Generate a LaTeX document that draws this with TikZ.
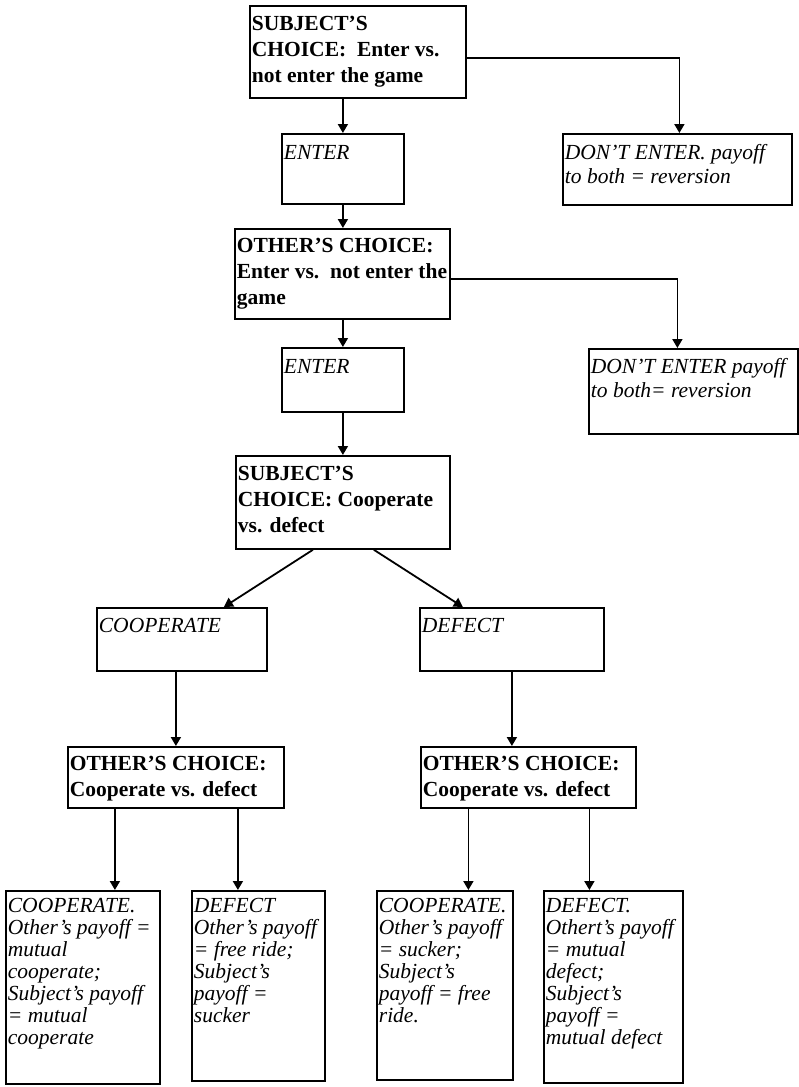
\documentclass[tikz,border=0pt]{standalone}
\usepackage{fontspec}
\setmainfont{Liberation Serif}
\usepackage{tikz}
\usetikzlibrary{arrows.meta}
\newcommand{\bxt}[4]{\parbox[t][#2][t]{#1}{\raggedright\rule{0pt}{#3}#4}}

\begin{document}
\begin{tikzpicture}[x=1pt,y=-1pt,
	choicebox/.style={draw,line width=1.8pt,anchor=north west,inner xsep=2pt,inner ysep=0pt,font={\fontsize{21.5}{26}\selectfont\bfseries}},
	movebox/.style={draw,line width=1.8pt,anchor=north west,inner xsep=2pt,inner ysep=0pt,font={\fontsize{21.5}{24}\selectfont\itshape}},
	payoffbox/.style={draw,line width=1.8pt,anchor=north west,inner xsep=2pt,inner ysep=0pt,font={\fontsize{21.5}{22}\selectfont\itshape}},
	arr/.style={line width=1.8pt,-{Triangle[length=9pt,width=10pt]}}]
	\useasboundingbox (0,0) rectangle (798,1087);
	% 第一步：被试选择
	\node[choicebox] (s1) at (249,5) {\bxt{212pt}{92pt}{25pt}{SUBJECT'S\\CHOICE:\ \ Enter vs.\\not enter the game}};
	\node[movebox] (e1) at (281,133) {\bxt{118pt}{70pt}{26pt}{ENTER}};
	\node[movebox] (d1) at (562,133) {\bxt{225pt}{71pt}{26pt}{DON'T ENTER. payoff\\to both = reversion}};
	% 第二步：对方选择
	\node[choicebox] (o1) at (234,228) {\bxt{211pt}{90pt}{24pt}{OTHER'S CHOICE:\\Enter vs.\ \ not enter the\\game}};
	\node[movebox] (e2) at (281,347) {\bxt{118pt}{64pt}{26pt}{ENTER}};
	\node[movebox] (d2) at (588,348) {\bxt{205pt}{85pt}{25pt}{DON'T ENTER payoff\\to both= reversion}};
	% 第三步：合作或背叛
	\node[choicebox] (s2) at (235,455) {\bxt{210pt}{93pt}{25pt}{SUBJECT'S\\CHOICE: Cooperate\\vs. defect}};
	\node[movebox] (c1) at (96,607) {\bxt{166pt}{63pt}{25pt}{COOPERATE}};
	\node[movebox] (f1) at (419,607) {\bxt{180pt}{63pt}{25pt}{DEFECT}};
	\node[choicebox] (o2) at (67,746) {\bxt{212pt}{61pt}{24pt}{OTHER'S CHOICE:\\Cooperate vs. defect}};
	\node[choicebox] (o3) at (420,746) {\bxt{211pt}{61pt}{24pt}{OTHER'S CHOICE:\\Cooperate vs. defect}};
	% 最后的收益
	\node[payoffbox] (b1) at (5,890) {\bxt{150pt}{193pt}{22pt}{COOPERATE.\\Other's payoff =\\mutual\\cooperate;\\Subject's payoff\\= mutual\\cooperate}};
	\node[payoffbox] (b2) at (191,890) {\bxt{129pt}{190pt}{22pt}{DEFECT\\Other's payoff\\= free ride;\\Subject's\\payoff =\\sucker}};
	\node[payoffbox] (b3) at (376,890) {\bxt{132pt}{189pt}{22pt}{COOPERATE.\\Other's payoff\\= sucker;\\Subject's\\payoff = free\\ride.}};
	\node[payoffbox] (b4) at (543,890) {\bxt{135pt}{192pt}{22pt}{DEFECT.\\Othert's payoff\\= mutual\\defect;\\Subject's\\payoff =\\mutual defect}};
	% 箭头
	\draw[arr] (e1.north |- s1.south) -- (e1.north);
	\draw[arr] ([yshift=-6pt]s1.east) -| ([xshift=2pt]d1.north);
	\draw[arr] (e1.south) -- (e1.south |- o1.north);
	\draw[arr] ([yshift=-5pt]o1.east) -| ([xshift=-16pt]d2.north);
	\draw[arr] (e2.north |- o1.south) -- (e2.north);
	\draw[arr] (e2.south) -- (e2.south |- s2.north);
	\draw[arr] ([xshift=-30pt]s2.south) -- ([xshift=42pt]c1.north);
	\draw[arr] ([xshift=31pt]s2.south) -- ([xshift=-49pt]f1.north);
	\draw[arr] (o2.north |- c1.south) -- (o2.north);
	\draw[arr] (f1.south) -- (f1.south |- o3.north);
	\draw[arr] ([xshift=-61pt]o2.south) -- ([xshift=-61pt]o2.south |- b1.north);
	\draw[arr] ([xshift=62pt]o2.south) -- ([xshift=62pt]o2.south |- b2.north);
	\draw[arr] ([xshift=-60pt]o3.south) -- ([xshift=-60pt]o3.south |- b3.north);
	\draw[arr] ([xshift=61pt]o3.south) -- ([xshift=61pt]o3.south |- b4.north);
\end{tikzpicture}
\end{document}
